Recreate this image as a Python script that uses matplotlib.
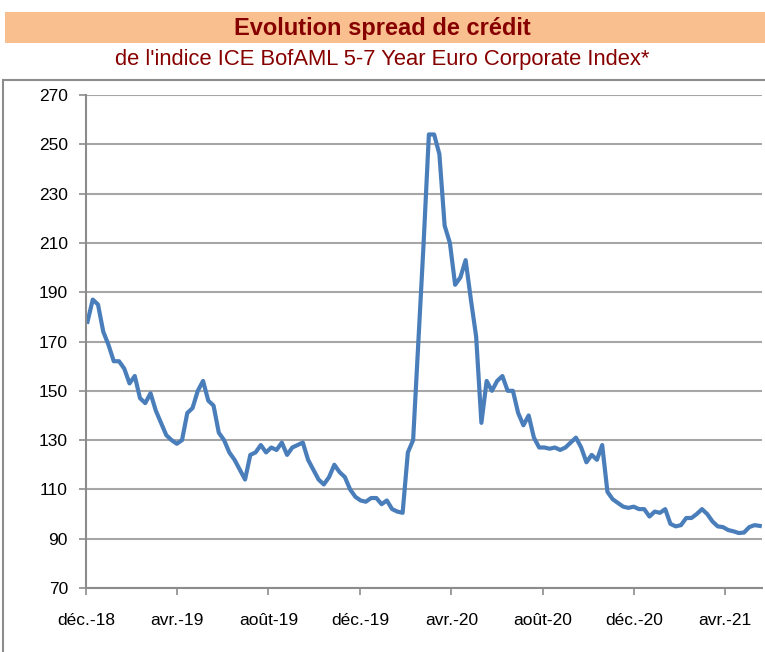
#!/usr/bin/env python3
# -*- coding: utf-8 -*-
"""
Evolution spread de crédit - ICE BofAML 5-7 Year Euro Corporate Index
Writes out.png
"""
import pandas as pd
import matplotlib
matplotlib.use("Agg")
import matplotlib.pyplot as plt
from matplotlib.patches import Rectangle

# weekly spread values (bp), starting early Dec 2018
start_date = "2018-12-03"
spread = [
    178, 187, 185, 174, 168.6, 162, 162, 159, 153, 156,
    147, 145, 149, 142, 137, 132, 130, 128.5, 130, 141,
    143, 150, 154, 146, 144, 133, 130, 125, 122, 118,
    114, 124, 125, 128, 125, 127, 126, 129, 124, 127,
    128, 129, 122, 118, 114, 112, 115, 120, 117, 115,
    110, 107, 105.5, 105, 106.5, 106.5, 104, 105.5, 102, 101,
    100.5, 125, 130, 170, 210, 254, 254, 246, 217, 210,
    193, 196, 203, 187, 172, 137, 154, 150, 154, 156,
    150, 150, 141, 136, 140, 131, 127, 127, 126.5, 127,
    126, 127, 129, 131, 127, 121, 124, 122, 128, 109,
    106, 104.5, 103, 102.5, 103, 102, 102, 99, 101, 100.5,
    102, 96, 95, 95.5, 98.4, 98.4, 100, 102, 100, 97,
    95, 94.7, 93.5, 93, 92.3, 92.5, 94.7, 95.5, 95.2,
]
dates = pd.date_range(start_date, periods=len(spread), freq="7D")

tick_dates = ["2018-12-01", "2019-04-01", "2019-08-01", "2019-12-01",
              "2020-04-01", "2020-08-01", "2020-12-01", "2021-04-01"]
tick_labels = ["déc.-18", "avr.-19", "août-19", "déc.-19",
               "avr.-20", "août-20", "déc.-20", "avr.-21"]
y_ticks = list(range(70, 271, 20))

title = "Evolution spread de crédit"
subtitle = "de l'indice ICE BofAML 5-7 Year Euro Corporate Index*"

plt.rcParams["font.family"] = ["Liberation Sans", "DejaVu Sans"]
W, H = 765, 652
fig = plt.figure(figsize=(W / 100, H / 100), dpi=100)

# header band + frame
fig.patches.append(Rectangle((5 / W, 1 - 43 / H), 760 / W, 31 / H,
                             transform=fig.transFigure, facecolor="#F9BF8F",
                             edgecolor="none", zorder=0))
fig.patches.append(Rectangle((3 / W, -0.01), 1.0, 1 - 80 / H + 0.01,
                             transform=fig.transFigure, facecolor="none",
                             edgecolor="#8C8C8C", lw=1.5, zorder=0))
fig.text(0.5, 1 - 28 / H, title, ha="center", va="center", fontsize=17,
         fontweight="bold", color="#870000")
fig.text(0.5, 1 - 60 / H, subtitle, ha="center", va="center", fontsize=15.8,
         color="#870000")

ax = fig.add_axes([86 / W, 1 - 588 / H, (762 - 86) / W, (588 - 95) / H])
ax.plot(dates, spread, color="#4A7EBB", lw=3, solid_joinstyle="round")

ax.set_ylim(70, 270)
ax.set_yticks(y_ticks)
ax.set_xlim(pd.Timestamp("2018-12-01"), pd.Timestamp("2021-05-20"))
ax.set_xticks(pd.to_datetime(tick_dates))
ax.set_xticklabels(tick_labels)
ax.grid(axis="y", color="#A6A6A6", lw=1.5)
ax.set_axisbelow(True)

for s in ["top", "right"]:
    ax.spines[s].set_visible(False)
for s in ["left", "bottom"]:
    ax.spines[s].set_color("#8C8C8C")
    ax.spines[s].set_linewidth(1.5)
ax.tick_params(axis="both", colors="#8C8C8C", width=1.2, length=5,
               labelcolor="black", labelsize=12.5)
ax.tick_params(axis="x", pad=13)
ax.tick_params(axis="y", pad=8)

fig.savefig("out.png", dpi=100)
